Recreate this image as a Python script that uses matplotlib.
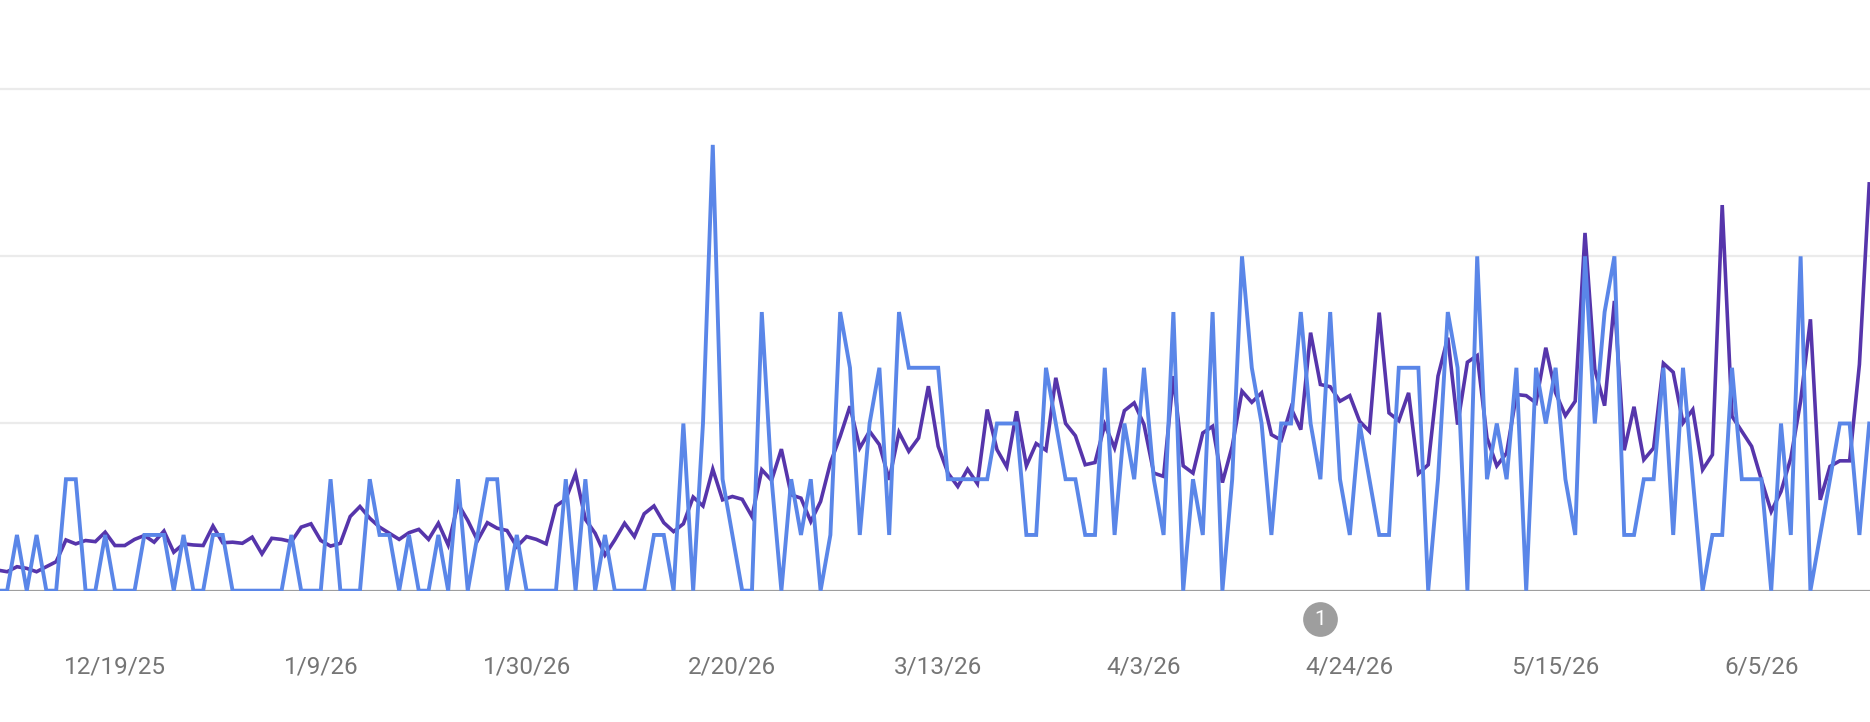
#!/usr/bin/env python
# two daily series over ~6 months, google-analytics style line chart
import matplotlib
matplotlib.use('Agg')
import matplotlib.pyplot as plt
import matplotlib.transforms as mtransforms
import pandas as pd

start_date = '2025-12-07'

# daily counts (blue)
counts = [0, 0, 1, 0, 1, 0, 0, 2, 2, 0, 0, 1,
          0, 0, 0, 1, 1, 1, 0, 1, 0, 0, 1, 1, 0, 0,
          0, 0, 0, 0, 1, 0, 0, 0, 2, 0, 0, 0, 2, 1, 1, 0, 1, 0, 0, 1, 0, 2, 0,
          1, 2, 2, 0, 1, 0, 0, 0, 0, 2, 0, 2, 0, 1, 0, 0, 0, 0, 1, 1, 0, 3, 0, 3,
          8, 2, 1, 0, 0, 5, 2, 0, 2, 1, 2, 0, 1, 5, 4, 1, 3, 4, 1, 5, 4, 4, 4,
          4, 2, 2, 2, 2, 2, 3, 3, 3, 1, 1, 4, 3, 2, 2, 1, 1, 4, 1, 3, 2, 4, 2, 1,
          5, 0, 2, 1, 5, 0, 2, 6, 4, 3, 1, 3, 3, 5, 3, 2, 5, 2, 1, 3, 2, 1, 1,
          4, 4, 4, 0, 2, 5, 4, 0, 6, 2, 3, 2, 4, 0, 4, 3, 4, 2, 1, 6, 3, 5, 6, 1,
          1, 2, 2, 4, 1, 4, 2, 0, 1, 1, 4, 2, 2, 2, 0, 3, 1, 6, 0, 1, 2, 3, 3, 1, 3]

# second metric (purple)
metric = [0.37, 0.34, 0.43, 0.40, 0.34, 0.43, 0.52, 0.91, 0.84, 0.90, 0.88, 1.05,
          0.81, 0.81, 0.92, 0.99, 0.87, 1.07, 0.69, 0.84, 0.82, 0.81, 1.16, 0.86, 0.87, 0.85,
          0.96, 0.66, 0.94, 0.92, 0.88, 1.14, 1.20, 0.90, 0.80, 0.85, 1.33, 1.51, 1.30, 1.14,
          1.03, 0.92, 1.04, 1.10, 0.92, 1.21, 0.82, 1.56, 1.26,
          0.90, 1.22, 1.12, 1.08, 0.79, 0.97, 0.92, 0.84, 1.52, 1.64, 2.10, 1.28, 1.03, 0.64,
          0.91, 1.21, 0.97, 1.38, 1.52, 1.22, 1.06, 1.20, 1.68, 1.52,
          2.18, 1.63, 1.69, 1.64, 1.33, 2.17, 1.98, 2.54, 1.72, 1.66, 1.24, 1.60, 2.29, 2.77,
          3.31, 2.56, 2.86, 2.62, 1.99, 2.84, 2.50, 2.74, 3.67,
          2.59, 2.11, 1.87, 2.18, 1.92, 3.25, 2.53, 2.22, 3.22, 2.24, 2.64, 2.52, 3.82, 3.00,
          2.78, 2.26, 2.30, 2.98, 2.56, 3.23, 3.37, 2.98, 2.11, 2.05,
          3.85, 2.24, 2.11, 2.83, 2.95, 1.94, 2.59, 3.58, 3.38, 3.55, 2.80, 2.70, 3.28, 2.89,
          4.63, 3.70, 3.66, 3.40, 3.50, 3.04, 2.86, 4.99, 3.19,
          3.05, 3.55, 2.10, 2.26, 3.85, 4.54, 2.98, 4.10, 4.22, 2.74, 2.24, 2.47, 3.52, 3.50,
          3.37, 4.36, 3.55, 3.14, 3.40, 6.42, 3.97, 3.32, 5.20, 2.52,
          3.30, 2.35, 2.56, 4.08, 3.92, 3.01, 3.25, 2.17, 2.44, 6.92, 3.13, 2.86, 2.59, 1.99,
          1.42, 1.78, 2.38, 3.40, 4.87, 1.63, 2.23, 2.33, 2.33, 4.06, 7.30]

tick_dates = ['2025-12-19', '2026-01-09', '2026-01-30', '2026-02-20', '2026-03-13',
              '2026-04-03', '2026-04-24', '2026-05-15', '2026-06-05']
tick_labels = ['12/19/25', '1/9/26', '1/30/26', '2/20/26', '3/13/26',
               '4/3/26', '4/24/26', '5/15/26', '6/5/26']
gridlines = [3, 6, 9]

annotation_date = '2026-04-21'
annotation_text = '1'


def plot():
  plt.rcParams['font.family'] = ['Roboto', 'DejaVu Sans']
  dates = pd.date_range(start_date, periods=len(counts), freq='D')

  fig = plt.figure(figsize=(18.7, 7.22), dpi=100)
  ax = fig.add_axes([0, 0.1819, 1, 0.8181])

  for g in gridlines:
    ax.axhline(g, color='#ebebeb', linewidth=1.6, zorder=0)
  ax.axhline(0, color='#9e9e9e', linewidth=1.6, zorder=1)

  ax.plot(dates, metric, color='#5635ab', linewidth=2.6, solid_joinstyle='miter', zorder=2)
  ax.plot(dates, counts, color='#5a86e8', linewidth=2.8, solid_joinstyle='miter', zorder=3)

  day = pd.Timedelta(days=1)
  ax.set_xlim(dates[2] - 1.73 * day, dates[2] + 189.08 * day)
  ax.set_ylim(0, 10.6)

  ax.set_xticks(pd.to_datetime(tick_dates))
  ax.set_xticklabels(tick_labels)
  ax.tick_params(axis='x', length=0, pad=47, labelsize=17.5, labelcolor='#757575')
  ax.set_yticks([])
  for s in ax.spines.values():
    s.set_visible(False)

  # annotation marker below the axis
  trans = mtransforms.blended_transform_factory(ax.transData, ax.transAxes)
  xa = pd.to_datetime(annotation_date)
  ax.plot([xa], [-0.048], marker='o', markersize=25, color='#9e9e9e',
          markeredgewidth=0, transform=trans, clip_on=False, zorder=5)
  ax.text(xa, -0.048, annotation_text, transform=trans, color='white', fontsize=15,
          ha='center', va='center', zorder=6)
  return fig


fig = plot()
fig.savefig('out.png', dpi=100)
